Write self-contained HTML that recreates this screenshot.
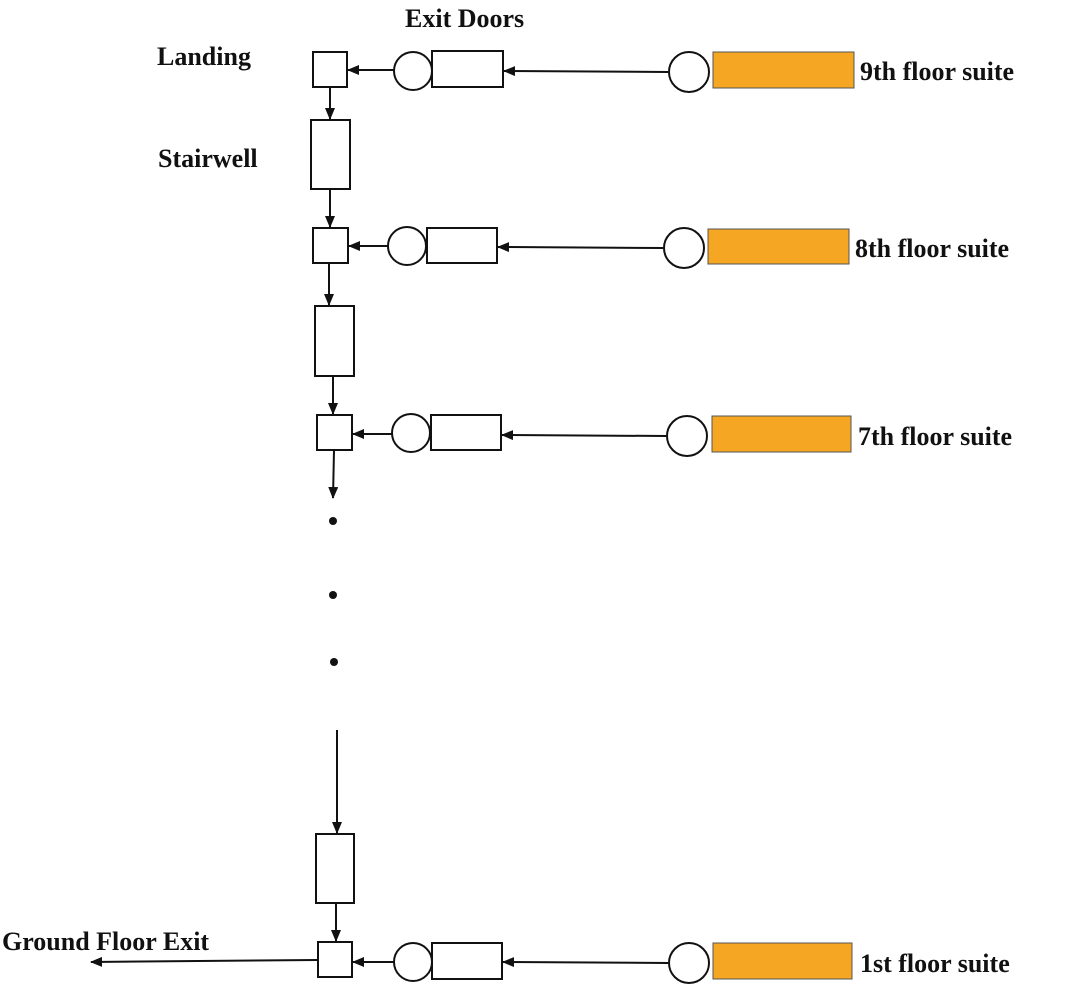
<!DOCTYPE html>
<html><head><meta charset="utf-8"><style>
html,body{margin:0;padding:0;background:#fff;}
svg{display:block;}
text{font-family:"Liberation Serif","DejaVu Serif",serif;font-weight:bold;font-size:26px;fill:#111;}
</style></head><body>
<svg width="1079" height="984" viewBox="0 0 1079 984" xmlns="http://www.w3.org/2000/svg">
<defs>
<marker id="a" markerWidth="12" markerHeight="10" refX="11" refY="5" orient="auto" markerUnits="userSpaceOnUse">
<path d="M0,0 L12,5 L0,10 z" fill="#111"/>
</marker>
</defs>
<g stroke="#111" stroke-width="2" fill="none">
<!-- row 9 -->
<rect x="313" y="52" width="34" height="35" fill="#fff"/>
<circle cx="413" cy="71" r="19"/>
<rect x="432" y="51" width="71" height="36"/>
<line x1="394" y1="70" x2="348" y2="70" marker-end="url(#a)"/>
<line x1="668" y1="72" x2="504" y2="71" marker-end="url(#a)"/>
<circle cx="689" cy="72" r="20"/>
<rect x="713" y="52" width="141" height="36" fill="#f5a623" stroke="#555" stroke-width="1"/>
<line x1="330" y1="87" x2="330" y2="119" marker-end="url(#a)"/>
<rect x="311" y="120" width="39" height="69"/>
<line x1="330" y1="189" x2="330" y2="227" marker-end="url(#a)"/>
<!-- row 8 -->
<rect x="313" y="228" width="35" height="35"/>
<circle cx="407" cy="246" r="19"/>
<rect x="427" y="228" width="70" height="35"/>
<line x1="388" y1="246" x2="349" y2="246" marker-end="url(#a)"/>
<line x1="663" y1="248" x2="498" y2="247" marker-end="url(#a)"/>
<circle cx="684" cy="248" r="20"/>
<rect x="708" y="229" width="141" height="35" fill="#f5a623" stroke="#555" stroke-width="1"/>
<line x1="329" y1="263" x2="329" y2="305" marker-end="url(#a)"/>
<rect x="315" y="306" width="39" height="70"/>
<line x1="333" y1="376" x2="333" y2="414" marker-end="url(#a)"/>
<!-- row 7 -->
<rect x="317" y="415" width="35" height="35"/>
<circle cx="411" cy="433" r="19"/>
<rect x="431" y="415" width="70" height="35"/>
<line x1="392" y1="434" x2="353" y2="434" marker-end="url(#a)"/>
<line x1="666" y1="436" x2="502" y2="435" marker-end="url(#a)"/>
<circle cx="687" cy="436" r="20"/>
<rect x="712" y="416" width="139" height="36" fill="#f5a623" stroke="#555" stroke-width="1"/>
<line x1="334" y1="450" x2="333" y2="498" marker-end="url(#a)"/>
<!-- bottom -->
<line x1="337" y1="730" x2="337" y2="833" marker-end="url(#a)"/>
<rect x="316" y="834" width="38" height="69"/>
<line x1="336" y1="903" x2="336" y2="941" marker-end="url(#a)"/>
<rect x="318" y="942" width="34" height="35"/>
<line x1="317" y1="960" x2="91" y2="962" marker-end="url(#a)"/>
<circle cx="413" cy="962" r="19"/>
<rect x="432" y="943" width="70" height="36"/>
<line x1="394" y1="962" x2="353" y2="962" marker-end="url(#a)"/>
<line x1="668" y1="963" x2="503" y2="962" marker-end="url(#a)"/>
<circle cx="689" cy="963" r="20"/>
<rect x="713" y="943" width="139" height="36" fill="#f5a623" stroke="#555" stroke-width="1"/>
</g>
<g fill="#111">
<circle cx="333" cy="521" r="4"/>
<circle cx="333" cy="595" r="4"/>
<circle cx="334" cy="662" r="4"/>
</g>
<text x="405" y="27">Exit Doors</text>
<text x="157" y="65">Landing</text>
<text x="158" y="167">Stairwell</text>
<text x="2" y="950">Ground Floor Exit</text>
<text x="860" y="80">9th floor suite</text>
<text x="855" y="257">8th floor suite</text>
<text x="858" y="445">7th floor suite</text>
<text x="860" y="972">1st floor suite</text>
</svg>
</body></html>
